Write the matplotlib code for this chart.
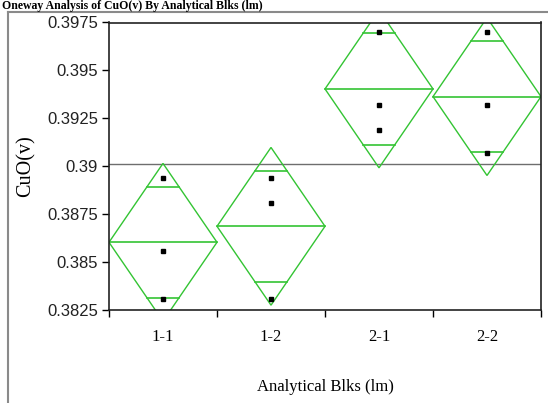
import numpy as np
import matplotlib.pyplot as plt
from matplotlib.patches import Polygon
from matplotlib.lines import Line2D

groups = ['1-1', '1-2', '2-1', '2-2']
cuo_11 = [0.3894, 0.3856, 0.3831]
cuo_12 = [0.3894, 0.3881, 0.3831]
cuo_21 = [0.3970, 0.3932, 0.3919]
cuo_22 = [0.3970, 0.3932, 0.3907]
samples = [cuo_11, cuo_12, cuo_21, cuo_22]

y_ticks = [0.3825, 0.385, 0.3875, 0.39, 0.3925, 0.395, 0.3975]
y_labels = ['0.3825', '0.385', '0.3875', '0.39', '0.3925', '0.395', '0.3975']

t_crit = 2.306  # t(0.975, df=8)
green = '#33c433'

fig = plt.figure(figsize=(5.48, 4.03), dpi=100)
ax = fig.add_axes([109 / 548, 1 - 310 / 403, 432 / 548, 287.5 / 403])

# pooled error for the mean diamonds
means = [np.mean(s) for s in samples]
sse = sum(((np.array(s) - np.mean(s)) ** 2).sum() for s in samples)
n_total = sum(len(s) for s in samples)
mse = sse / (n_total - len(samples))
grand = np.mean(np.concatenate(samples))

ax.axhline(grand, color='#6e6e6e', lw=1.0, zorder=1)

for i, (s, m) in enumerate(zip(samples, means)):
    cx = i + 0.5
    hw = 0.5
    ci = t_crit * np.sqrt(mse / len(s))
    diamond = Polygon([(cx - hw, m), (cx, m + ci), (cx + hw, m), (cx, m - ci)],
                      closed=True, fill=False, edgecolor=green, lw=1.0, zorder=2)
    ax.add_patch(diamond)
    ax.plot([cx - hw, cx + hw], [m, m], color=green, lw=1.2, zorder=2)
    off = ci / np.sqrt(2)
    ow = hw * (1 - 1 / np.sqrt(2))
    for sign in (1, -1):
        ax.plot([cx - ow, cx + ow], [m + sign * off] * 2, color=green, lw=1.2, zorder=2)
    ax.plot([cx] * len(s), s, 's', color='black', ms=3, zorder=3)

ax.set_xlim(0, len(groups))
ax.set_ylim(0.3825, 0.3975)
ax.set_xticks(np.arange(len(groups) + 1))
ax.set_xticklabels([])
ax.set_xticks(np.arange(len(groups)) + 0.5, minor=True)
ax.set_xticklabels(groups, minor=True, family='Liberation Serif', fontsize=12)
ax.tick_params(axis='x', which='minor', length=0, pad=14)
ax.tick_params(axis='x', which='major', length=5, width=1, direction='out')
ax.set_yticks(y_ticks)
ax.set_yticklabels(y_labels, family='Liberation Sans', fontsize=12, color='#222222')
ax.tick_params(axis='y', length=5, width=1, direction='out', pad=3)
for sp in ax.spines.values():
    sp.set_color('#222222')
    sp.set_linewidth(1.2)

ax.set_xlabel('Analytical Blks (lm)', family='Liberation Serif', fontsize=12)
ax.xaxis.label.set_va('center')
ax.xaxis.set_label_coords(0.5, (310 - 387) / 287.5)
ax.set_ylabel('CuO(v)', family='Liberation Serif', fontsize=14.5)
ax.yaxis.label.set_va('center')
ax.yaxis.set_label_coords((26 - 109) / 432, 0.5)

# report frame and title
fig.add_artist(Line2D([8 / 548, 1], [1 - 12 / 403] * 2, color='#8a8a8a', lw=1.5))
fig.add_artist(Line2D([8 / 548] * 2, [0, 1 - 12 / 403], color='#8a8a8a', lw=1.5))
fig.text(2 / 548, 1 - 9 / 403, 'Oneway Analysis of CuO(v) By Analytical Blks (lm)',
         family='Liberation Serif', fontweight='bold', fontsize=8.5, va='baseline')

fig.savefig('out.png', dpi=100)
